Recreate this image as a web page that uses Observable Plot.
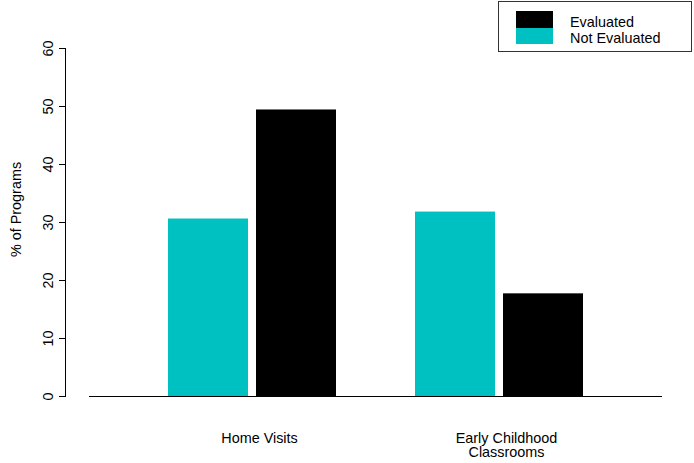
<!DOCTYPE html>
<html>
<head>
<meta charset="utf-8">
<script src="https://cdn.jsdelivr.net/npm/d3@7"></script>
<script src="https://cdn.jsdelivr.net/npm/@observablehq/plot@0.6"></script>
<style>
  html, body { margin: 0; padding: 0; background: #fff; }
  #wrap { position: relative; width: 694px; height: 463px; font-family: "Liberation Sans", Arial, Helvetica, sans-serif; font-size: 14.4px; color: #000; }
  #legend { position: absolute; left: 498px; top: 1px; width: 194px; height: 51px; border: 1px solid #333; box-sizing: border-box; background: #fff; }
  .sw { position: absolute; left: 17px; width: 37px; }
  .lt { position: absolute; left: 71px; line-height: 16px; white-space: nowrap; }
</style>
</head>
<body>
<div id="wrap"></div>
<script>
// ---- data ----
const categories = ["Home Visits", "Early Childhood Classrooms"];
const categoryLabels = ["Home Visits", "Early Childhood\nClassrooms"];
const series = ["Evaluated", "Not Evaluated"];
const seriesColors = ["#000000", "#00C1C1"];
const evaluated = [49.4, 17.7];
const notEvaluated = [30.6, 31.8];
const yTicks = [0, 10, 20, 30, 40, 50, 60];
const yLabel = "% of Programs";

const rows = [];
categories.forEach((c, i) => {
  rows.push({category: c, series: "Not Evaluated", value: notEvaluated[i]});
  rows.push({category: c, series: "Evaluated", value: evaluated[i]});
});

const chart = Plot.plot({
  width: 694,
  height: 463,
  marginTop: 48,
  marginBottom: 67,
  marginLeft: 89,
  marginRight: 32,
  style: {fontFamily: "'Liberation Sans', Arial, Helvetica, sans-serif", fontSize: "14.4px", background: "transparent", color: "#000"},
  x: {domain: categories, paddingInner: 0.32, paddingOuter: 0.316, axis: null},
  y: {domain: [0, 60], axis: null},
  color: {domain: series, range: seriesColors},
  marks: [
    Plot.barY(rows.filter(d => d.series === "Not Evaluated"), {x: "category", y: "value", fill: "series", insetRight: 88}),
    Plot.barY(rows.filter(d => d.series === "Evaluated"), {x: "category", y: "value", fill: "series", insetLeft: 88}),
    Plot.ruleY([0], {stroke: "#000", strokeWidth: 1.2}),
    Plot.frame({anchor: "left", dx: -24, stroke: "#000"}),
    Plot.axisY(yTicks, {
      tickSize: 6, tickPadding: 7, dx: -24,
      tickRotate: -90, textAnchor: "middle", lineAnchor: "bottom",
      label: null, stroke: "#000", fill: "#000"
    }),
    Plot.axisX({
      tickSize: 0, tickPadding: 36, dx: 7,
      tickFormat: d => categoryLabels[categories.indexOf(d)],
      label: null, fill: "#000"
    }),
    Plot.text([yLabel], {frameAnchor: "left", textAnchor: "middle", lineAnchor: "middle", rotate: -90, dx: -73, dy: -13, fill: "#000"})
  ]
});

const wrap = document.getElementById("wrap");
wrap.appendChild(chart);

// legend
const legend = document.createElement("div");
legend.id = "legend";
const swTops = [9, 26];
const swHeights = [17, 16];
const textTops = [12, 28];
series.forEach((s, i) => {
  const sw = document.createElement("div");
  sw.className = "sw";
  sw.style.top = swTops[i] + "px";
  sw.style.height = swHeights[i] + "px";
  sw.style.background = seriesColors[i];
  legend.appendChild(sw);
  const t = document.createElement("div");
  t.className = "lt";
  t.style.top = textTops[i] + "px";
  t.textContent = s;
  legend.appendChild(t);
});
wrap.appendChild(legend);
</script>
</body>
</html>
